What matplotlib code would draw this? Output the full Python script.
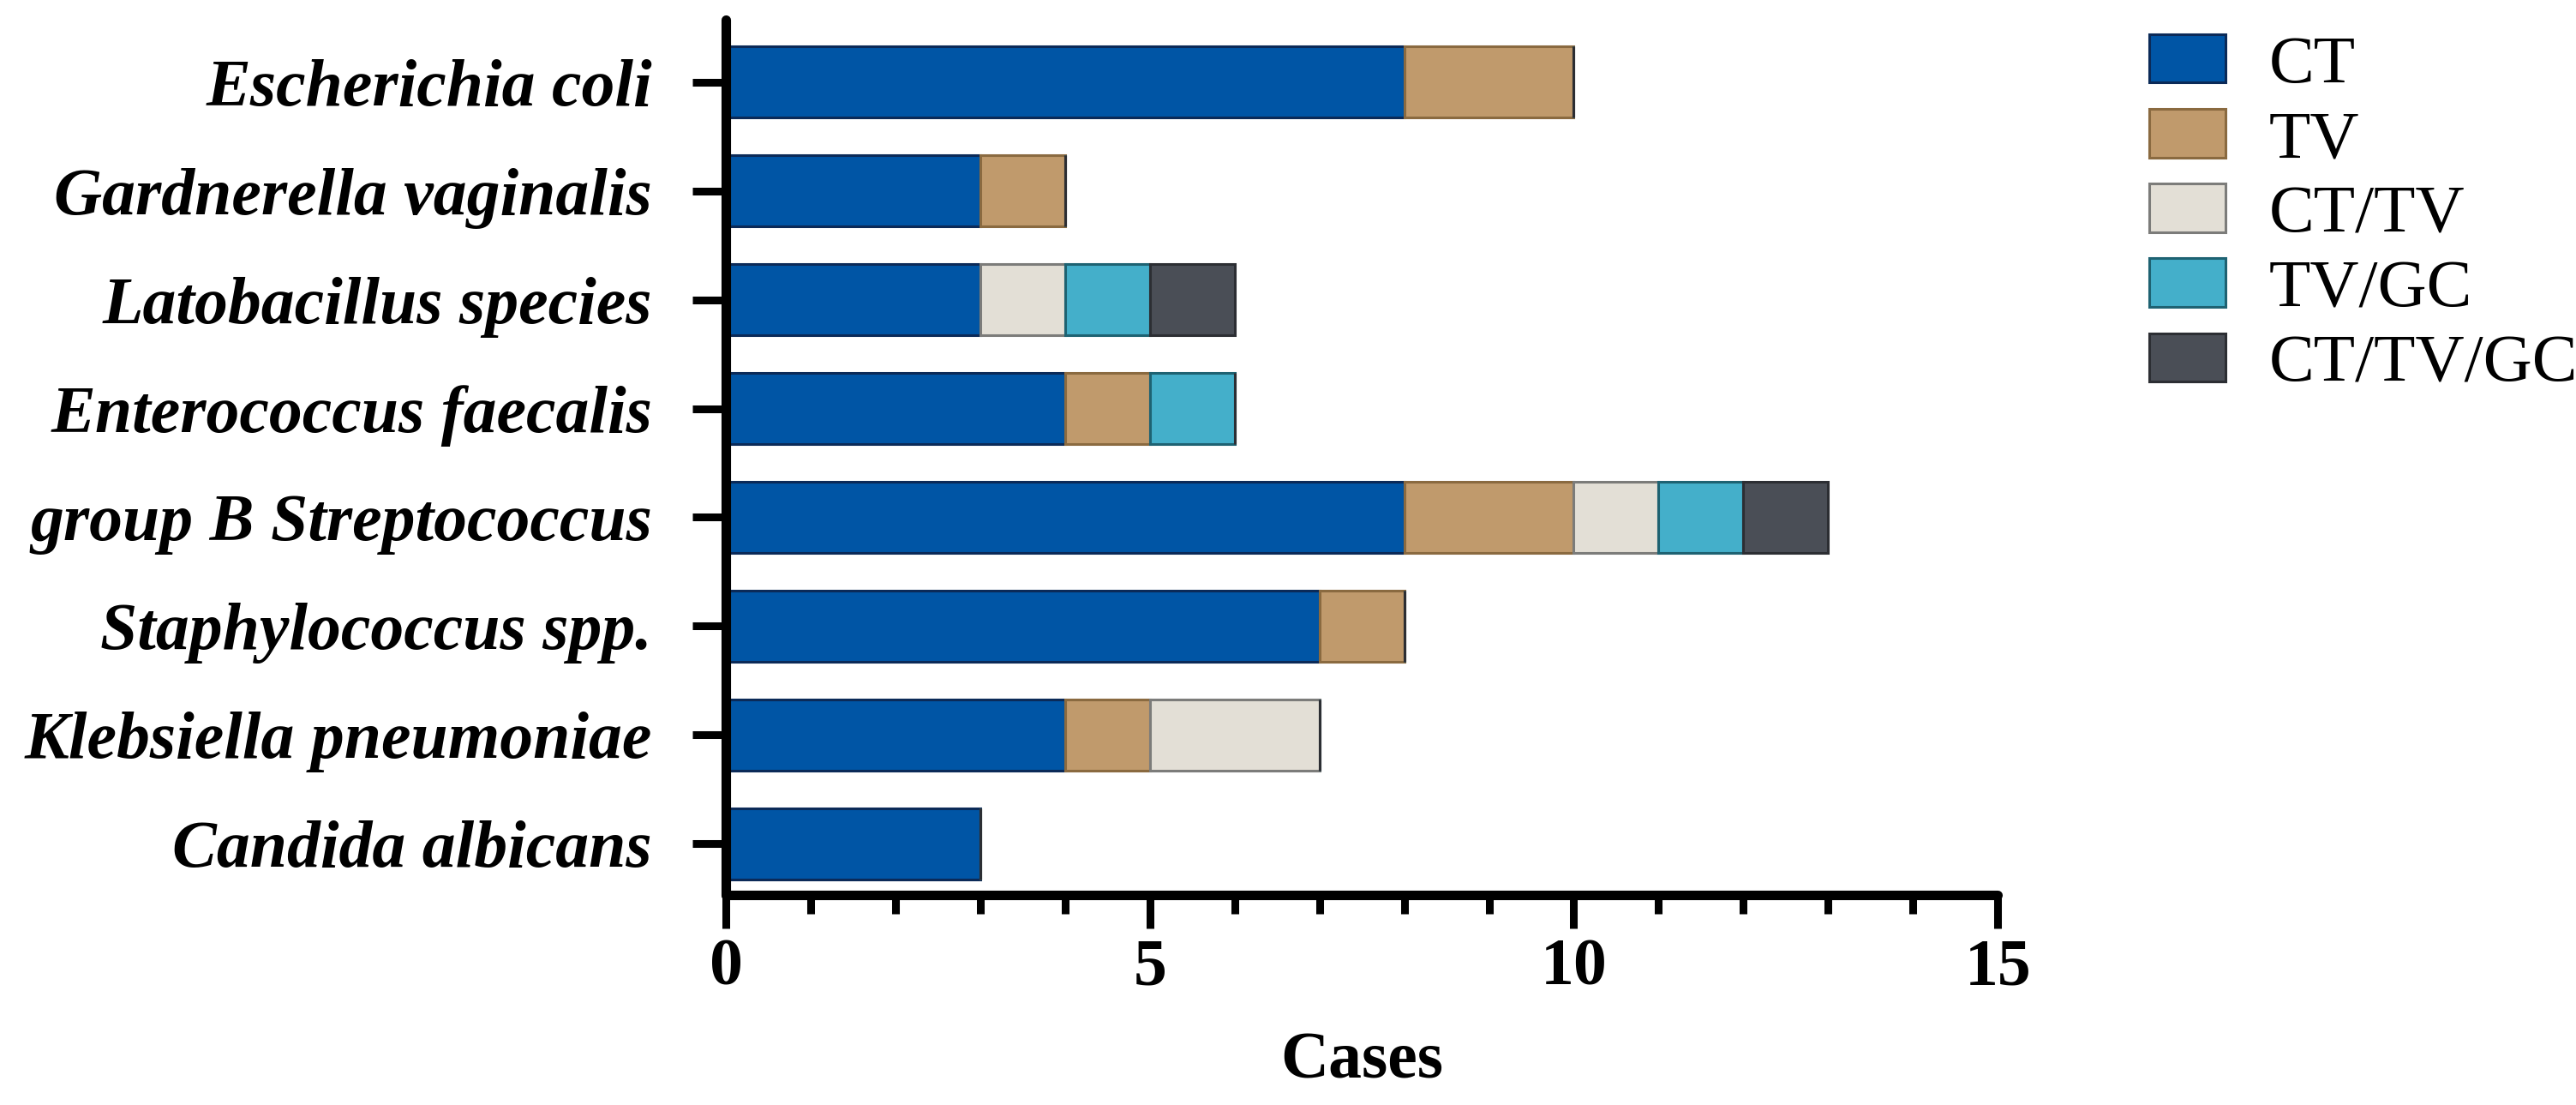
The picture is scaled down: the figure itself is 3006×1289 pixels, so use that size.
import numpy as np
import matplotlib
matplotlib.use("Agg")
import matplotlib.pyplot as plt
from matplotlib.ticker import MultipleLocator

# data, top to bottom
organisms = ["Escherichia coli", "Gardnerella vaginalis", "Latobacillus species",
             "Enterococcus faecalis", "group B Streptococcus", "Staphylococcus spp.",
             "Klebsiella pneumoniae", "Candida albicans"]
groups = ["CT", "TV", "CT/TV", "TV/GC", "CT/TV/GC"]
ct = [8, 3, 3, 4, 8, 7, 4, 3]
tv = [2, 1, 0, 1, 2, 1, 1, 0]
ct_tv = [0, 0, 1, 0, 1, 0, 2, 0]
tv_gc = [0, 0, 1, 1, 1, 0, 0, 0]
ct_tv_gc = [0, 0, 1, 0, 1, 0, 0, 0]

fills = ["#0055A5", "#C09A6C", "#E3DFD6", "#44AFCA", "#4A4E56"]
edges = ["#0B2A58", "#8A6A40", "#7C7C7A", "#1E6272", "#2C2E33"]

plt.rcParams["font.family"] = ["Liberation Serif"]

fig = plt.figure(figsize=(30.06, 12.89), dpi=100)
ax = fig.add_axes([0.2818, 0.19, 0.7755 - 0.2818, 0.982 - 0.19])

y = np.arange(len(organisms))
left = np.zeros(len(organisms))
handles = []
for vals, fc, ec, name in zip([ct, tv, ct_tv, tv_gc, ct_tv_gc], fills, edges, groups):
    vals = np.array(vals, dtype=float)
    b = ax.barh(y, vals, left=left, height=0.65, color=fc, edgecolor=ec,
                linewidth=2.2, label=name, zorder=2)
    handles.append(b)
    left += vals

ax.set_xlim(0, 15)
ax.set_ylim(7.47, -0.57)
ax.xaxis.set_major_locator(MultipleLocator(5))
ax.xaxis.set_minor_locator(MultipleLocator(1))
ax.set_yticks(y)
ax.set_yticklabels(organisms, fontsize=56, fontweight="bold", fontstyle="italic")
ax.tick_params(axis="x", which="major", labelsize=56, length=28, width=6.5, pad=8)
ax.tick_params(axis="x", which="minor", length=16, width=6.5)
ax.tick_params(axis="y", which="major", length=28, width=6.5, pad=34)
for t in ax.get_xticklabels():
    t.set_fontweight("bold")

ax.set_xlabel("Cases", fontsize=56, fontweight="bold", labelpad=28)

for s in ["top", "right"]:
    ax.spines[s].set_visible(False)
for s in ["left", "bottom"]:
    ax.spines[s].set_linewidth(8)
    ax.spines[s].set_capstyle("round")

fig.legend(handles=handles, labels=groups, loc="upper left",
           bbox_to_anchor=(2508 / 3006, 1 - 40 / 1289), frameon=False,
           fontsize=57, handlelength=1.13, handleheight=0.72,
           handletextpad=0.63, labelspacing=0.18, borderpad=0, borderaxespad=0)

fig.savefig("out.png", dpi=100)
